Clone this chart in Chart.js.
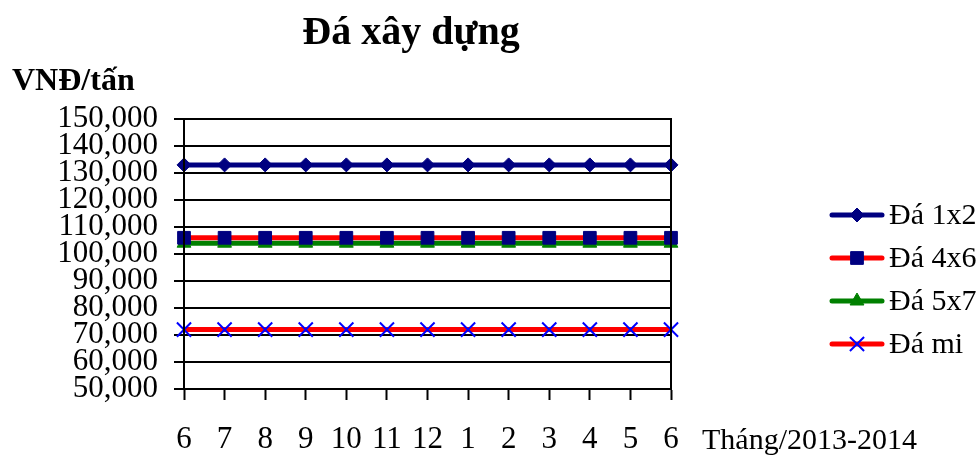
<!DOCTYPE html>
<html>
<head>
<meta charset="utf-8">
<script src="https://cdn.jsdelivr.net/npm/chart.js@4/dist/chart.umd.min.js"></script>
<style>
  html, body { margin: 0; padding: 0; background: #fff; }
  #wrap { width: 979px; height: 457px; }
</style>
</head>
<body>
<div id="wrap"><canvas id="chart" width="979" height="457"></canvas></div>
<script>
// Dữ liệu
const months = ["6", "7", "8", "9", "10", "11", "12", "1", "2", "3", "4", "5", "6"];
const da1x2 = [133000, 133000, 133000, 133000, 133000, 133000, 133000, 133000, 133000, 133000, 133000, 133000, 133000];
const da4x6 = [106000, 106000, 106000, 106000, 106000, 106000, 106000, 106000, 106000, 106000, 106000, 106000, 106000];
const da5x7 = [104000, 104000, 104000, 104000, 104000, 104000, 104000, 104000, 104000, 104000, 104000, 104000, 104000];
const daMi = [72000, 72000, 72000, 72000, 72000, 72000, 72000, 72000, 72000, 72000, 72000, 72000, 72000];
const seriesNames = ["Đá 1x2", "Đá 4x6", "Đá 5x7", "Đá mi"];
const yMin = 50000, yMax = 150000, yStep = 10000;

const chartTitle = "Đá xây dựng";
const yTitle = "VNĐ/tấn";
const xTitle = "Tháng/2013-2014";
const FONT = "'Liberation Serif', 'Times New Roman', serif";

// Vẽ tiêu đề, khung, chú thích
const decor = {
    id: "decor",
    afterDraw(chart) {
        const ctx = chart.ctx;
        const a = chart.chartArea;
        ctx.save();
        ctx.strokeStyle = "#000";
        ctx.lineWidth = 2;
        ctx.strokeRect(a.left, a.top, a.right - a.left, a.bottom - a.top);

        ctx.fillStyle = "#000";
        ctx.textBaseline = "middle";
        ctx.textAlign = "center";
        ctx.font = "bold 40px " + FONT;
        ctx.fillText(chartTitle, 411, 34);

        ctx.textAlign = "left";
        ctx.font = "bold 32px " + FONT;
        ctx.fillText(yTitle, 12, 82);

        ctx.font = "30px " + FONT;
        ctx.fillText(xTitle, 702, 441);

        // chú thích
        chart.data.datasets.forEach((ds, i) => {
            const y = 215 + i * 43;
            ctx.strokeStyle = ds.borderColor;
            ctx.lineWidth = 5;
            ctx.lineCap = "round";
            ctx.beginPath();
            ctx.moveTo(832, y);
            ctx.lineTo(882, y);
            ctx.stroke();

            ctx.fillStyle = ds.pointBackgroundColor;
            ctx.strokeStyle = ds.pointBorderColor;
            ctx.lineWidth = ds.pointBorderWidth;
            ctx.lineCap = "butt";
            Chart.helpers.drawPoint(ctx, {
                pointStyle: ds.pointStyle,
                radius: ds.pointRadius,
                borderWidth: ds.pointBorderWidth
            }, 857, y);

            ctx.fillStyle = "#000";
            ctx.font = "30px " + FONT;
            ctx.fillText(ds.label, 889, y + 1);
        });
        ctx.restore();
    }
};

const datasets = [
    {
        label: seriesNames[0],
        data: da1x2,
        borderColor: "#000080",
        pointBackgroundColor: "#000080",
        pointBorderColor: "#000080",
        pointStyle: "rectRot",
        pointRadius: 7,
        pointBorderWidth: 1
    },
    {
        label: seriesNames[1],
        data: da4x6,
        borderColor: "#ff0000",
        pointBackgroundColor: "#000080",
        pointBorderColor: "#000080",
        pointStyle: "rect",
        pointRadius: 9,
        pointBorderWidth: 1
    },
    {
        label: seriesNames[2],
        data: da5x7,
        borderColor: "#008000",
        pointBackgroundColor: "#008000",
        pointBorderColor: "#008000",
        pointStyle: "triangle",
        pointRadius: 8,
        pointBorderWidth: 1
    },
    {
        label: seriesNames[3],
        data: daMi,
        borderColor: "#ff0000",
        pointBackgroundColor: "#0000ff",
        pointBorderColor: "#0000ff",
        pointStyle: "crossRot",
        pointRadius: 10,
        pointBorderWidth: 2
    }
];
datasets.forEach(ds => {
    ds.borderWidth = 5;
    ds.tension = 0;
    ds.fill = false;
    ds.backgroundColor = ds.pointBackgroundColor;
    ds.pointHoverRadius = ds.pointRadius;
});

new Chart(document.getElementById("chart").getContext("2d"), {
    type: "line",
    data: { labels: months, datasets: datasets },
    options: {
        responsive: false,
        animation: false,
        events: [],
        layout: { padding: { left: 0, top: 119, right: 308, bottom: 0 } },
        plugins: {
            legend: { display: false },
            title: { display: false },
            tooltip: { enabled: false }
        },
        scales: {
            x: {
                type: "category",
                offset: false,
                afterFit: s => { s.height = 68; },
                grid: {
                    drawOnChartArea: false,
                    drawTicks: true,
                    tickLength: 11,
                    tickWidth: 2,
                    tickColor: "#000"
                },
                border: { display: true, color: "#000", width: 2 },
                ticks: {
                    color: "#000",
                    font: { family: FONT, size: 31 },
                    padding: 21,
                    autoSkip: false,
                    maxRotation: 0
                }
            },
            y: {
                min: yMin,
                max: yMax,
                afterFit: s => { s.width = 184; },
                grid: {
                    color: "#000",
                    lineWidth: 2,
                    drawTicks: true,
                    tickLength: 10,
                    tickColor: "#000"
                },
                border: { display: true, color: "#000", width: 2 },
                ticks: {
                    stepSize: yStep,
                    autoSkip: false,
                    color: "#000",
                    padding: 16,
                    font: { family: FONT, size: 31 },
                    callback: v => v.toLocaleString("en-US")
                }
            }
        }
    },
    plugins: [decor]
});
</script>
</body>
</html>
